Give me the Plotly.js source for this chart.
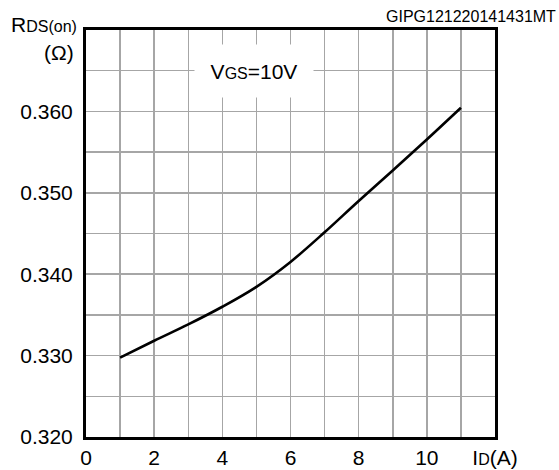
<!DOCTYPE html>
<html>
<head>
<meta charset="utf-8">
<script src="https://cdn.plot.ly/plotly-3.0.1.min.js"></script>
<style>html,body{margin:0;padding:0;background:#fff;}#chart{width:559px;height:470px;}</style>
</head>
<body>
<div id="chart"></div>
<script>
const currentA = [1, 2, 3, 4, 5, 6, 7, 8, 9, 10, 11];
const rdsOn = [0.32975, 0.33182, 0.33383, 0.33600, 0.33845, 0.34151, 0.34515, 0.34900, 0.35275, 0.35655, 0.36045];
const xTickVals = [0, 1, 2, 3, 4, 5, 6, 7, 8, 9, 10, 11, 12];
const xTickText = ['0', '', '2', '', '4', '', '6', '', '8', '', '10', '', 'I<span style="font-size:16px">D</span>(A)'];
const yTickVals = [0.320, 0.325, 0.330, 0.335, 0.340, 0.345, 0.350, 0.355, 0.360, 0.365];
const yTickText = ['0.320', '', '0.330', '', '0.340', '', '0.350', '', '0.360', ''];

const font = {family: 'Liberation Sans, Arial, sans-serif', size: 21, color: '#000'};

Plotly.newPlot('chart', [{
  x: currentA, y: rdsOn, type: 'scatter', mode: 'lines',
  line: {color: '#000', width: 2.6, shape: 'spline'}, hoverinfo: 'none'
}], {
  width: 559, height: 470,
  margin: {l: 86, r: 64, t: 30, b: 33, pad: 0},
  paper_bgcolor: '#fff', plot_bgcolor: '#fff',
  font: font,
  showlegend: false,
  xaxis: {
    range: [0, 12], tickmode: 'array', tickvals: xTickVals, ticktext: xTickText,
    showgrid: true, gridcolor: '#a6a6a6', gridwidth: 1.5,
    showline: true, linecolor: '#000', linewidth: 3, mirror: true,
    ticks: '', zeroline: false, tickfont: font, fixedrange: true
  },
  yaxis: {
    range: [0.320, 0.370], tickmode: 'array', tickvals: yTickVals, ticktext: yTickText,
    showgrid: true, gridcolor: '#a6a6a6', gridwidth: 1.5,
    showline: true, linecolor: '#000', linewidth: 3, mirror: true,
    ticks: '', ticklabelstandoff: 6, zeroline: false, tickfont: font, fixedrange: true
  },
  annotations: [
    {xref: 'x', yref: 'y', x: 4.94, y: 0.365, showarrow: false,
     text: 'V<span style="font-size:16px">GS</span>=10V', font: font,
     bgcolor: '#fff', width: 110, height: 44, borderpad: 4},
    {xref: 'paper', yref: 'paper', x: 0, y: 1, xshift: -77, yshift: -8, xanchor: 'left', yanchor: 'bottom',
     showarrow: false, text: 'R<span style="font-size:16px">DS(on)</span>', font: font},
    {xref: 'paper', yref: 'paper', x: 0, y: 1, xshift: -10, yshift: -9, xanchor: 'right', yanchor: 'top',
     showarrow: false, text: '(Ω)', font: font},
    {xref: 'paper', yref: 'paper', x: 1, y: 1, xshift: 63, yshift: 3, xanchor: 'right', yanchor: 'bottom',
     showarrow: false, text: 'GIPG121220141431MT', font: {family: font.family, size: 16, color: '#000'}}
  ]
}, {staticPlot: true});
</script>
</body>
</html>
